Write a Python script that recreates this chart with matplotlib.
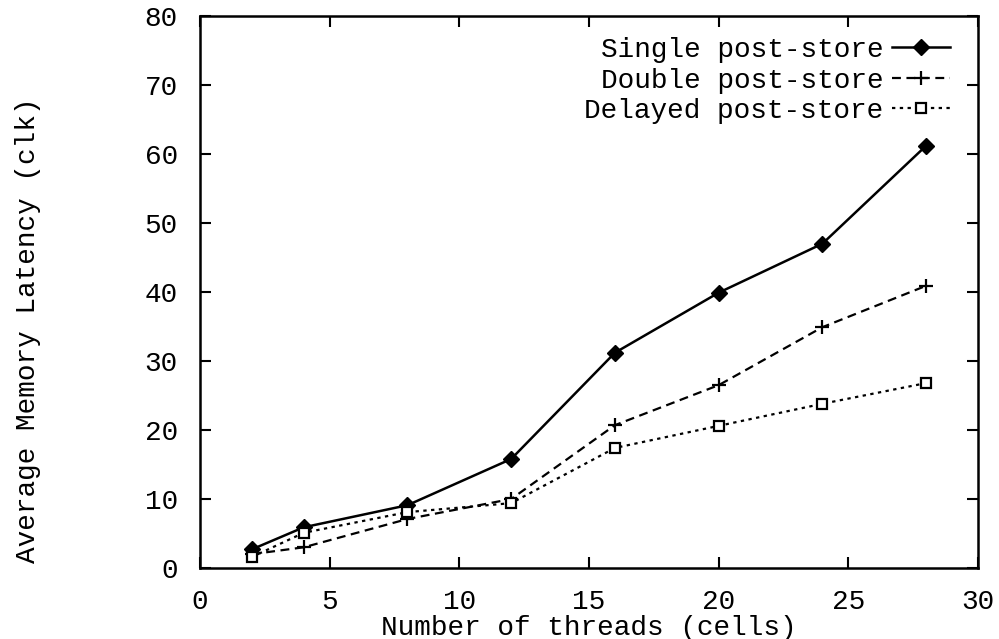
import matplotlib
matplotlib.use("Agg")
import matplotlib.pyplot as plt

# Data
threads = [2, 4, 8, 12, 16, 20, 24, 28]
single = [2.7, 5.9, 9.1, 15.8, 31.2, 39.9, 47.0, 61.2]
double = [2.0, 3.0, 7.1, 10.0, 20.7, 26.5, 34.9, 40.9]
delayed = [1.6, 5.1, 8.1, 9.4, 17.4, 20.6, 23.8, 26.8]

plt.rcParams['font.family'] = ['Liberation Mono', 'DejaVu Sans Mono']
plt.rcParams['font.size'] = 20

fig = plt.figure(figsize=(9.99, 6.39), dpi=100)
ax = fig.add_axes([200/999, 1 - 568/639, 778/999, 552/639])

ax.plot(threads, single, '-', color='black', lw=1.8, marker='D', markersize=8,
        label='Single post-store')
ax.plot(threads, double, color='black', lw=1.6, ls=(0, (4, 2.5)), marker='+',
        markersize=10, markeredgewidth=1.6, label='Double post-store')
ax.plot(threads, delayed, color='black', lw=1.6, ls=(0, (1.5, 2)), marker='s',
        markersize=7, markerfacecolor='white', markeredgewidth=1.6,
        label='Delayed post-store')

ax.set_xlim(0, 30)
ax.set_ylim(0, 80)
ax.set_xticks(range(0, 31, 5))
ax.set_yticks(range(0, 81, 10))
ax.tick_params(direction='in', top=True, right=True, length=8, width=1.5)
ax.tick_params(axis='x', pad=15)
ax.tick_params(axis='y', pad=16)
for s in ax.spines.values():
    s.set_linewidth(1.8)

ax.set_xlabel('Number of threads (cells)')
ax.set_ylabel('Average Memory Latency (clk)')
ax.xaxis.set_label_coords(0.5, -0.085)
ax.yaxis.set_label_coords(-0.205, 0.43)

ax.legend(loc='upper right', frameon=False, markerfirst=False, handlelength=2.1,
          handletextpad=0.3, labelspacing=0.16, borderaxespad=0.6,
          bbox_to_anchor=(1.0, 1.012))

fig.savefig('out.png', dpi=100)
